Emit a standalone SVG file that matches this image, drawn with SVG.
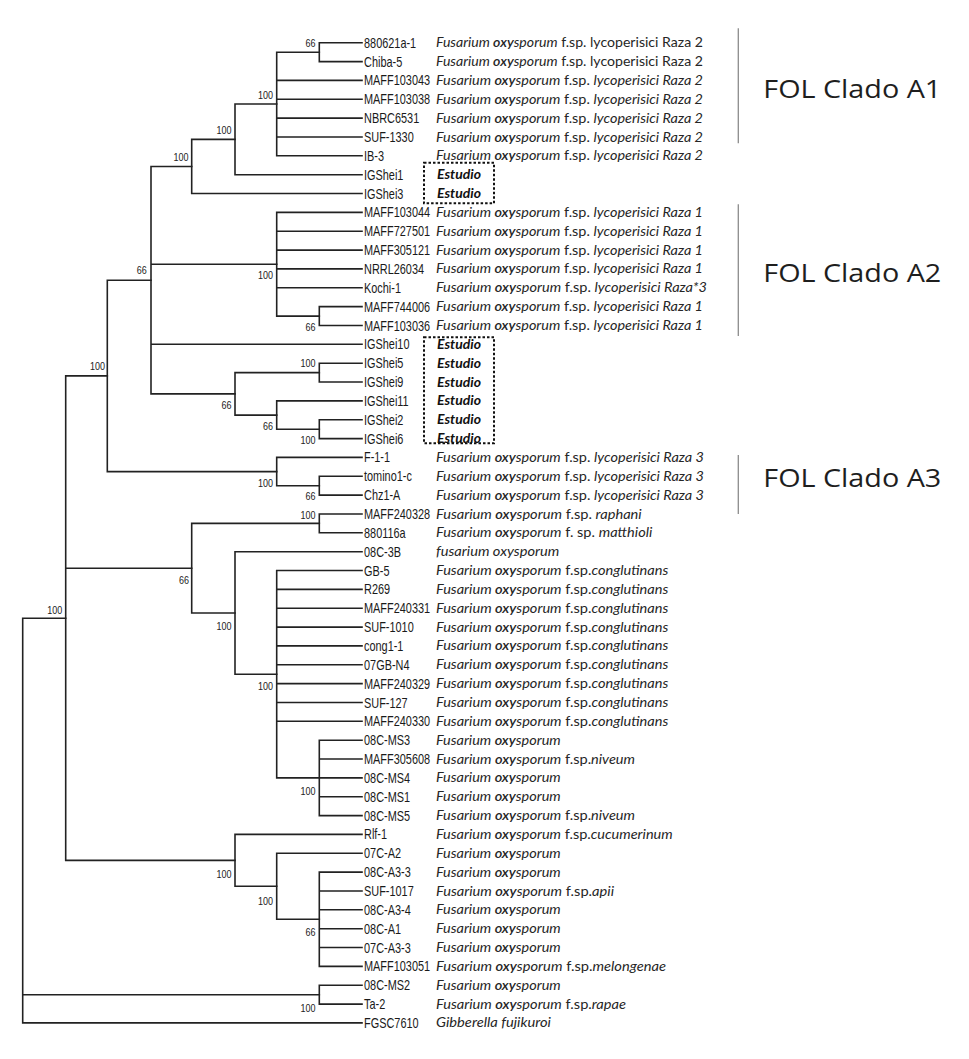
<svg xmlns="http://www.w3.org/2000/svg" width="969" height="1059" viewBox="0 0 969 1059">
<style>
.t{stroke:#222;stroke-width:1.6;fill:none;stroke-linecap:square}
.lf{font-family:"Liberation Sans",Arial,sans-serif;font-size:14px;fill:#1a1a1a}
.sp{font-family:Lato,"Open Sans",sans-serif;font-size:13.5px;fill:#262626}
.i{font-style:italic}
.bi{font-style:italic;font-weight:600}
.bs{font-family:"Liberation Sans",Arial,sans-serif;font-size:10px;fill:#222;text-anchor:end}
.est{font-family:Lato,"Open Sans",sans-serif;font-size:13.5px;font-style:italic;font-weight:bold;fill:#111}
.box{fill:none;stroke:#111;stroke-width:2;stroke-dasharray:2.5 2}
.br{stroke:#8c8c8c;stroke-width:1.3}
.fol{font-family:"Open Sans","Liberation Sans",sans-serif;font-size:25px;fill:#1e1e1e}
</style>
<rect width="969" height="1059" fill="#fff"/>
<g id="connectors">
<path class="t" d="M22.7 618.2V1022.9M22.7 618.2H65.7M22.7 994.7H319.3M22.7 1022.9H362"/>
<path class="t" d="M65.7 375.9V860.4M65.7 375.9H107.3M65.7 568.2H191.7M65.7 860.4H235"/>
<path class="t" d="M107.3 280.2V471.6M107.3 280.2H151M107.3 471.6H276.7"/>
<path class="t" d="M151 166.5V393.9M151 166.5H191.7M151 264.3H276.7M151 344.3H362M151 393.9H235"/>
<path class="t" d="M191.7 139.4V193.5M191.7 139.4H235M191.7 193.5H362"/>
<path class="t" d="M235 104V174.7M235 104H276.7M235 174.7H362"/>
<path class="t" d="M276.7 52.2V155.8M276.7 52.2H319.3M276.7 80.4H362M276.7 99.3H362M276.7 118.1H362M276.7 137H362M276.7 155.8H362"/>
<path class="t" d="M319.3 42.7V61.6M319.3 42.7H362M319.3 61.6H362"/>
<path class="t" d="M276.7 212.4V316.1M276.7 212.4H362M276.7 231.2H362M276.7 250.1H362M276.7 268.9H362M276.7 287.8H362M276.7 316.1H319.3"/>
<path class="t" d="M319.3 306.6V325.5M319.3 306.6H362M319.3 325.5H362"/>
<path class="t" d="M235 372.6V415.1M235 372.6H319.3M235 415.1H276.7"/>
<path class="t" d="M319.3 363.2V382M319.3 363.2H362M319.3 382H362"/>
<path class="t" d="M276.7 400.9V429.2M276.7 400.9H362M276.7 429.2H319.3"/>
<path class="t" d="M319.3 419.7V438.6M319.3 419.7H362M319.3 438.6H362"/>
<path class="t" d="M276.7 457.4V485.7M276.7 457.4H362M276.7 485.7H319.3"/>
<path class="t" d="M319.3 476.3V495.1M319.3 476.3H362M319.3 495.1H362"/>
<path class="t" d="M191.7 523.4V613M191.7 523.4H319.3M191.7 613H235"/>
<path class="t" d="M319.3 514V532.8M319.3 514H362M319.3 532.8H362"/>
<path class="t" d="M235 551.7V674.2M235 551.7H362M235 674.2H276.7"/>
<path class="t" d="M276.7 570.5V777.9M276.7 570.5H362M276.7 589.4H362M276.7 608.2H362M276.7 627.1H362M276.7 645.9H362M276.7 664.8H362M276.7 683.6H362M276.7 702.5H362M276.7 721.3H362M276.7 777.9H319.3"/>
<path class="t" d="M319.3 740.2V815.6M319.3 740.2H362M319.3 759H362M319.3 777.9H362M319.3 796.7H362M319.3 815.6H362"/>
<path class="t" d="M235 834.4V886.3M235 834.4H362M235 886.3H276.7"/>
<path class="t" d="M276.7 853.3V919.3M276.7 853.3H362M276.7 919.3H319.3"/>
<path class="t" d="M319.3 872.1V966.4M319.3 872.1H362M319.3 891H362M319.3 909.8H362M319.3 928.7H362M319.3 947.5H362M319.3 966.4H362"/>
<path class="t" d="M319.3 985.2V1004.1M319.3 985.2H362M319.3 1004.1H362"/>
<path class="br" d="M738.3 28.3V143.3M738.3 204.3V336M738.3 455V514"/>
</g>
<g id="support-values">
<text class="bs" x="315.5" y="46.5" textLength="10" lengthAdjust="spacingAndGlyphs">66</text>
<text class="bs" x="273" y="98.5" textLength="15" lengthAdjust="spacingAndGlyphs">100</text>
<text class="bs" x="231.5" y="133.5" textLength="15" lengthAdjust="spacingAndGlyphs">100</text>
<text class="bs" x="188.5" y="160.5" textLength="15" lengthAdjust="spacingAndGlyphs">100</text>
<text class="bs" x="146.7" y="273.5" textLength="10" lengthAdjust="spacingAndGlyphs">66</text>
<text class="bs" x="273" y="278.5" textLength="15" lengthAdjust="spacingAndGlyphs">100</text>
<text class="bs" x="315.5" y="331" textLength="10" lengthAdjust="spacingAndGlyphs">66</text>
<text class="bs" x="315.5" y="366.8" textLength="15" lengthAdjust="spacingAndGlyphs">100</text>
<text class="bs" x="231.5" y="408.5" textLength="10" lengthAdjust="spacingAndGlyphs">66</text>
<text class="bs" x="273" y="429.5" textLength="10" lengthAdjust="spacingAndGlyphs">66</text>
<text class="bs" x="315.5" y="444" textLength="15" lengthAdjust="spacingAndGlyphs">100</text>
<text class="bs" x="105" y="370.2" textLength="15" lengthAdjust="spacingAndGlyphs">100</text>
<text class="bs" x="273" y="486.8" textLength="15" lengthAdjust="spacingAndGlyphs">100</text>
<text class="bs" x="315.5" y="500.2" textLength="10" lengthAdjust="spacingAndGlyphs">66</text>
<text class="bs" x="315.5" y="518.5" textLength="15" lengthAdjust="spacingAndGlyphs">100</text>
<text class="bs" x="189" y="584" textLength="10" lengthAdjust="spacingAndGlyphs">66</text>
<text class="bs" x="62.3" y="613.5" textLength="15" lengthAdjust="spacingAndGlyphs">100</text>
<text class="bs" x="231.5" y="629.5" textLength="15" lengthAdjust="spacingAndGlyphs">100</text>
<text class="bs" x="273" y="689.5" textLength="15" lengthAdjust="spacingAndGlyphs">100</text>
<text class="bs" x="315.5" y="794.8" textLength="15" lengthAdjust="spacingAndGlyphs">100</text>
<text class="bs" x="231.5" y="878" textLength="15" lengthAdjust="spacingAndGlyphs">100</text>
<text class="bs" x="273" y="904.8" textLength="15" lengthAdjust="spacingAndGlyphs">100</text>
<text class="bs" x="315.5" y="936.3" textLength="10" lengthAdjust="spacingAndGlyphs">66</text>
<text class="bs" x="315.5" y="1012.2" textLength="15" lengthAdjust="spacingAndGlyphs">100</text>
</g>
<g id="study-boxes">
<rect class="box" x="424" y="162.7" width="70" height="40.6"/>
<rect class="box" x="424" y="337.3" width="70" height="106"/>
</g>
<g id="clade-labels">
<text class="fol" x="763.3" y="98" textLength="178" lengthAdjust="spacingAndGlyphs">FOL Clado A1</text>
<text class="fol" x="763.3" y="281.5" textLength="178" lengthAdjust="spacingAndGlyphs">FOL Clado A2</text>
<text class="fol" x="763.3" y="486.5" textLength="178" lengthAdjust="spacingAndGlyphs">FOL Clado A3</text>
</g>
<g id="leaf-880621a-1"><text class="lf" transform="translate(364 47.7) scale(0.78 1)">880621a-1</text><text class="sp" x="436" y="47.2" textLength="267" lengthAdjust="spacingAndGlyphs"><tspan class="i">Fusarium </tspan><tspan class="bi">oxy</tspan><tspan class="i">sporum</tspan> f.sp. lycoperisici Raza 2</text></g>
<g id="leaf-Chiba-5"><text class="lf" transform="translate(364 66.6) scale(0.78 1)">Chiba-5</text><text class="sp" x="436" y="66.1" textLength="267" lengthAdjust="spacingAndGlyphs"><tspan class="i">Fusarium </tspan><tspan class="bi">oxy</tspan><tspan class="i">sporum</tspan> f.sp. lycoperisici Raza 2</text></g>
<g id="leaf-MAFF103043"><text class="lf" transform="translate(364 85.4) scale(0.78 1)">MAFF103043</text><text class="sp" x="436" y="84.9" textLength="267" lengthAdjust="spacingAndGlyphs"><tspan class="i">Fusarium </tspan><tspan class="bi">oxy</tspan><tspan class="i">sporum</tspan> f.sp. <tspan class="i">lycoperisici Raza 2</tspan></text></g>
<g id="leaf-MAFF103038"><text class="lf" transform="translate(364 104.3) scale(0.78 1)">MAFF103038</text><text class="sp" x="436" y="103.8" textLength="267" lengthAdjust="spacingAndGlyphs"><tspan class="i">Fusarium </tspan><tspan class="bi">oxy</tspan><tspan class="i">sporum</tspan> f.sp. <tspan class="i">lycoperisici Raza 2</tspan></text></g>
<g id="leaf-NBRC6531"><text class="lf" transform="translate(364 123.1) scale(0.78 1)">NBRC6531</text><text class="sp" x="436" y="122.6" textLength="267" lengthAdjust="spacingAndGlyphs"><tspan class="i">Fusarium </tspan><tspan class="bi">oxy</tspan><tspan class="i">sporum</tspan> f.sp. <tspan class="i">lycoperisici Raza 2</tspan></text></g>
<g id="leaf-SUF-1330"><text class="lf" transform="translate(364 142) scale(0.78 1)">SUF-1330</text><text class="sp" x="436" y="141.5" textLength="267" lengthAdjust="spacingAndGlyphs"><tspan class="i">Fusarium </tspan><tspan class="bi">oxy</tspan><tspan class="i">sporum</tspan> f.sp. <tspan class="i">lycoperisici Raza 2</tspan></text></g>
<g id="leaf-IB-3"><text class="lf" transform="translate(364 160.8) scale(0.78 1)">IB-3</text><text class="sp" x="436" y="160.3" textLength="267" lengthAdjust="spacingAndGlyphs"><tspan class="i">Fusarium </tspan><tspan class="bi">oxy</tspan><tspan class="i">sporum</tspan> f.sp. <tspan class="i">lycoperisici Raza 2</tspan></text></g>
<g id="leaf-IGShei1"><text class="lf" transform="translate(364 179.7) scale(0.78 1)">IGShei1</text><text class="est" x="437" y="179.2" textLength="44" lengthAdjust="spacingAndGlyphs">Estudio</text></g>
<g id="leaf-IGShei3"><text class="lf" transform="translate(364 198.5) scale(0.78 1)">IGShei3</text><text class="est" x="437" y="198" textLength="44" lengthAdjust="spacingAndGlyphs">Estudio</text></g>
<g id="leaf-MAFF103044"><text class="lf" transform="translate(364 217.4) scale(0.78 1)">MAFF103044</text><text class="sp" x="436" y="216.9" textLength="267" lengthAdjust="spacingAndGlyphs"><tspan class="i">Fusarium </tspan><tspan class="bi">oxy</tspan><tspan class="i">sporum</tspan> f.sp. <tspan class="i">lycoperisici Raza 1</tspan></text></g>
<g id="leaf-MAFF727501"><text class="lf" transform="translate(364 236.2) scale(0.78 1)">MAFF727501</text><text class="sp" x="436" y="235.7" textLength="267" lengthAdjust="spacingAndGlyphs"><tspan class="i">Fusarium </tspan><tspan class="bi">oxy</tspan><tspan class="i">sporum</tspan> f.sp. <tspan class="i">lycoperisici Raza 1</tspan></text></g>
<g id="leaf-MAFF305121"><text class="lf" transform="translate(364 255.1) scale(0.78 1)">MAFF305121</text><text class="sp" x="436" y="254.6" textLength="267" lengthAdjust="spacingAndGlyphs"><tspan class="i">Fusarium </tspan><tspan class="bi">oxy</tspan><tspan class="i">sporum</tspan> f.sp. <tspan class="i">lycoperisici Raza 1</tspan></text></g>
<g id="leaf-NRRL26034"><text class="lf" transform="translate(364 273.9) scale(0.78 1)">NRRL26034</text><text class="sp" x="436" y="273.4" textLength="267" lengthAdjust="spacingAndGlyphs"><tspan class="i">Fusarium </tspan><tspan class="bi">oxy</tspan><tspan class="i">sporum</tspan> f.sp. <tspan class="i">lycoperisici Raza 1</tspan></text></g>
<g id="leaf-Kochi-1"><text class="lf" transform="translate(364 292.8) scale(0.78 1)">Kochi-1</text><text class="sp" x="436" y="292.3" textLength="271" lengthAdjust="spacingAndGlyphs"><tspan class="i">Fusarium </tspan><tspan class="bi">oxy</tspan><tspan class="i">sporum</tspan> f.sp. <tspan class="i">lycoperisici Raza*3</tspan></text></g>
<g id="leaf-MAFF744006"><text class="lf" transform="translate(364 311.6) scale(0.78 1)">MAFF744006</text><text class="sp" x="436" y="311.1" textLength="267" lengthAdjust="spacingAndGlyphs"><tspan class="i">Fusarium </tspan><tspan class="bi">oxy</tspan><tspan class="i">sporum</tspan> f.sp. <tspan class="i">lycoperisici Raza 1</tspan></text></g>
<g id="leaf-MAFF103036"><text class="lf" transform="translate(364 330.5) scale(0.78 1)">MAFF103036</text><text class="sp" x="436" y="330" textLength="267" lengthAdjust="spacingAndGlyphs"><tspan class="i">Fusarium </tspan><tspan class="bi">oxy</tspan><tspan class="i">sporum</tspan> f.sp. <tspan class="i">lycoperisici Raza 1</tspan></text></g>
<g id="leaf-IGShei10"><text class="lf" transform="translate(364 349.3) scale(0.78 1)">IGShei10</text><text class="est" x="437" y="348.8" textLength="44" lengthAdjust="spacingAndGlyphs">Estudio</text></g>
<g id="leaf-IGShei5"><text class="lf" transform="translate(364 368.2) scale(0.78 1)">IGShei5</text><text class="est" x="437" y="367.7" textLength="44" lengthAdjust="spacingAndGlyphs">Estudio</text></g>
<g id="leaf-IGShei9"><text class="lf" transform="translate(364 387) scale(0.78 1)">IGShei9</text><text class="est" x="437" y="386.5" textLength="44" lengthAdjust="spacingAndGlyphs">Estudio</text></g>
<g id="leaf-IGShei11"><text class="lf" transform="translate(364 405.9) scale(0.78 1)">IGShei11</text><text class="est" x="437" y="405.4" textLength="44" lengthAdjust="spacingAndGlyphs">Estudio</text></g>
<g id="leaf-IGShei2"><text class="lf" transform="translate(364 424.7) scale(0.78 1)">IGShei2</text><text class="est" x="437" y="424.2" textLength="44" lengthAdjust="spacingAndGlyphs">Estudio</text></g>
<g id="leaf-IGShei6"><text class="lf" transform="translate(364 443.6) scale(0.78 1)">IGShei6</text><text class="est" x="437" y="443.1" textLength="44" lengthAdjust="spacingAndGlyphs">Estudio</text></g>
<g id="leaf-F-1-1"><text class="lf" transform="translate(364 462.4) scale(0.78 1)">F-1-1</text><text class="sp" x="436" y="461.9" textLength="268" lengthAdjust="spacingAndGlyphs"><tspan class="i">Fusarium </tspan><tspan class="bi">oxy</tspan><tspan class="i">sporum</tspan> f.sp. <tspan class="i">lycoperisici Raza 3</tspan></text></g>
<g id="leaf-tomino1-c"><text class="lf" transform="translate(364 481.3) scale(0.78 1)">tomino1-c</text><text class="sp" x="436" y="480.8" textLength="268" lengthAdjust="spacingAndGlyphs"><tspan class="i">Fusarium </tspan><tspan class="bi">oxy</tspan><tspan class="i">sporum</tspan> f.sp. <tspan class="i">lycoperisici Raza 3</tspan></text></g>
<g id="leaf-Chz1-A"><text class="lf" transform="translate(364 500.1) scale(0.78 1)">Chz1-A</text><text class="sp" x="436" y="499.6" textLength="268" lengthAdjust="spacingAndGlyphs"><tspan class="i">Fusarium </tspan><tspan class="bi">oxy</tspan><tspan class="i">sporum</tspan> f.sp. <tspan class="i">lycoperisici Raza 3</tspan></text></g>
<g id="leaf-MAFF240328"><text class="lf" transform="translate(364 519) scale(0.78 1)">MAFF240328</text><text class="sp" x="436" y="518.5" textLength="205.7" lengthAdjust="spacingAndGlyphs"><tspan class="i">Fusarium </tspan><tspan class="bi">oxy</tspan><tspan class="i">sporum</tspan> f.sp. <tspan class="i">raphani</tspan></text></g>
<g id="leaf-880116a"><text class="lf" transform="translate(364 537.8) scale(0.78 1)">880116a</text><text class="sp" x="436" y="537.3" textLength="216.3" lengthAdjust="spacingAndGlyphs"><tspan class="i">Fusarium </tspan><tspan class="bi">oxy</tspan><tspan class="i">sporum</tspan> f. sp. <tspan class="i">matthioli</tspan></text></g>
<g id="leaf-08C-3B"><text class="lf" transform="translate(364 556.7) scale(0.78 1)">08C-3B</text><text class="sp i" x="436" y="556.2" textLength="123.3" lengthAdjust="spacingAndGlyphs">fusarium oxysporum</text></g>
<g id="leaf-GB-5"><text class="lf" transform="translate(364 575.5) scale(0.78 1)">GB-5</text><text class="sp" x="436" y="575" textLength="232.3" lengthAdjust="spacingAndGlyphs"><tspan class="i">Fusarium </tspan><tspan class="bi">oxy</tspan><tspan class="i">sporum</tspan> f.sp.<tspan class="i">conglutinans</tspan></text></g>
<g id="leaf-R269"><text class="lf" transform="translate(364 594.4) scale(0.78 1)">R269</text><text class="sp" x="436" y="593.9" textLength="232.3" lengthAdjust="spacingAndGlyphs"><tspan class="i">Fusarium </tspan><tspan class="bi">oxy</tspan><tspan class="i">sporum</tspan> f.sp.<tspan class="i">conglutinans</tspan></text></g>
<g id="leaf-MAFF240331"><text class="lf" transform="translate(364 613.2) scale(0.78 1)">MAFF240331</text><text class="sp" x="436" y="612.7" textLength="232.3" lengthAdjust="spacingAndGlyphs"><tspan class="i">Fusarium </tspan><tspan class="bi">oxy</tspan><tspan class="i">sporum</tspan> f.sp.<tspan class="i">conglutinans</tspan></text></g>
<g id="leaf-SUF-1010"><text class="lf" transform="translate(364 632.1) scale(0.78 1)">SUF-1010</text><text class="sp" x="436" y="631.6" textLength="232.3" lengthAdjust="spacingAndGlyphs"><tspan class="i">Fusarium </tspan><tspan class="bi">oxy</tspan><tspan class="i">sporum</tspan> f.sp.<tspan class="i">conglutinans</tspan></text></g>
<g id="leaf-cong1-1"><text class="lf" transform="translate(364 650.9) scale(0.78 1)">cong1-1</text><text class="sp" x="436" y="650.4" textLength="232.3" lengthAdjust="spacingAndGlyphs"><tspan class="i">Fusarium </tspan><tspan class="bi">oxy</tspan><tspan class="i">sporum</tspan> f.sp.<tspan class="i">conglutinans</tspan></text></g>
<g id="leaf-07GB-N4"><text class="lf" transform="translate(364 669.8) scale(0.78 1)">07GB-N4</text><text class="sp" x="436" y="669.3" textLength="232.3" lengthAdjust="spacingAndGlyphs"><tspan class="i">Fusarium </tspan><tspan class="bi">oxy</tspan><tspan class="i">sporum</tspan> f.sp.<tspan class="i">conglutinans</tspan></text></g>
<g id="leaf-MAFF240329"><text class="lf" transform="translate(364 688.6) scale(0.78 1)">MAFF240329</text><text class="sp" x="436" y="688.1" textLength="232.3" lengthAdjust="spacingAndGlyphs"><tspan class="i">Fusarium </tspan><tspan class="bi">oxy</tspan><tspan class="i">sporum</tspan> f.sp.<tspan class="i">conglutinans</tspan></text></g>
<g id="leaf-SUF-127"><text class="lf" transform="translate(364 707.5) scale(0.78 1)">SUF-127</text><text class="sp" x="436" y="707" textLength="232.3" lengthAdjust="spacingAndGlyphs"><tspan class="i">Fusarium </tspan><tspan class="bi">oxy</tspan><tspan class="i">sporum</tspan> f.sp.<tspan class="i">conglutinans</tspan></text></g>
<g id="leaf-MAFF240330"><text class="lf" transform="translate(364 726.3) scale(0.78 1)">MAFF240330</text><text class="sp" x="436" y="725.8" textLength="232.3" lengthAdjust="spacingAndGlyphs"><tspan class="i">Fusarium </tspan><tspan class="bi">oxy</tspan><tspan class="i">sporum</tspan> f.sp.<tspan class="i">conglutinans</tspan></text></g>
<g id="leaf-08C-MS3"><text class="lf" transform="translate(364 745.2) scale(0.78 1)">08C-MS3</text><text class="sp" x="436" y="744.7" textLength="124.7" lengthAdjust="spacingAndGlyphs"><tspan class="i">Fusarium </tspan><tspan class="bi">oxy</tspan><tspan class="i">sporum</tspan></text></g>
<g id="leaf-MAFF305608"><text class="lf" transform="translate(364 764) scale(0.78 1)">MAFF305608</text><text class="sp" x="436" y="763.5" textLength="199" lengthAdjust="spacingAndGlyphs"><tspan class="i">Fusarium </tspan><tspan class="bi">oxy</tspan><tspan class="i">sporum</tspan> f.sp.<tspan class="i">niveum</tspan></text></g>
<g id="leaf-08C-MS4"><text class="lf" transform="translate(364 782.9) scale(0.78 1)">08C-MS4</text><text class="sp" x="436" y="782.4" textLength="124.7" lengthAdjust="spacingAndGlyphs"><tspan class="i">Fusarium </tspan><tspan class="bi">oxy</tspan><tspan class="i">sporum</tspan></text></g>
<g id="leaf-08C-MS1"><text class="lf" transform="translate(364 801.7) scale(0.78 1)">08C-MS1</text><text class="sp" x="436" y="801.2" textLength="124.7" lengthAdjust="spacingAndGlyphs"><tspan class="i">Fusarium </tspan><tspan class="bi">oxy</tspan><tspan class="i">sporum</tspan></text></g>
<g id="leaf-08C-MS5"><text class="lf" transform="translate(364 820.6) scale(0.78 1)">08C-MS5</text><text class="sp" x="436" y="820.1" textLength="199" lengthAdjust="spacingAndGlyphs"><tspan class="i">Fusarium </tspan><tspan class="bi">oxy</tspan><tspan class="i">sporum</tspan> f.sp.<tspan class="i">niveum</tspan></text></g>
<g id="leaf-Rlf-1"><text class="lf" transform="translate(364 839.4) scale(0.78 1)">Rlf-1</text><text class="sp" x="436" y="838.9" textLength="236.7" lengthAdjust="spacingAndGlyphs"><tspan class="i">Fusarium </tspan><tspan class="bi">oxy</tspan><tspan class="i">sporum</tspan> f.sp.<tspan class="i">cucumerinum</tspan></text></g>
<g id="leaf-07C-A2"><text class="lf" transform="translate(364 858.3) scale(0.78 1)">07C-A2</text><text class="sp" x="436" y="857.8" textLength="124.7" lengthAdjust="spacingAndGlyphs"><tspan class="i">Fusarium </tspan><tspan class="bi">oxy</tspan><tspan class="i">sporum</tspan></text></g>
<g id="leaf-08C-A3-3"><text class="lf" transform="translate(364 877.1) scale(0.78 1)">08C-A3-3</text><text class="sp" x="436" y="876.6" textLength="124.7" lengthAdjust="spacingAndGlyphs"><tspan class="i">Fusarium </tspan><tspan class="bi">oxy</tspan><tspan class="i">sporum</tspan></text></g>
<g id="leaf-SUF-1017"><text class="lf" transform="translate(364 896) scale(0.78 1)">SUF-1017</text><text class="sp" x="436" y="895.5" textLength="178" lengthAdjust="spacingAndGlyphs"><tspan class="i">Fusarium </tspan><tspan class="bi">oxy</tspan><tspan class="i">sporum</tspan> f.sp.<tspan class="i">apii</tspan></text></g>
<g id="leaf-08C-A3-4"><text class="lf" transform="translate(364 914.8) scale(0.78 1)">08C-A3-4</text><text class="sp" x="436" y="914.3" textLength="124.7" lengthAdjust="spacingAndGlyphs"><tspan class="i">Fusarium </tspan><tspan class="bi">oxy</tspan><tspan class="i">sporum</tspan></text></g>
<g id="leaf-08C-A1"><text class="lf" transform="translate(364 933.7) scale(0.78 1)">08C-A1</text><text class="sp" x="436" y="933.2" textLength="124.7" lengthAdjust="spacingAndGlyphs"><tspan class="i">Fusarium </tspan><tspan class="bi">oxy</tspan><tspan class="i">sporum</tspan></text></g>
<g id="leaf-07C-A3-3"><text class="lf" transform="translate(364 952.5) scale(0.78 1)">07C-A3-3</text><text class="sp" x="436" y="952" textLength="124.7" lengthAdjust="spacingAndGlyphs"><tspan class="i">Fusarium </tspan><tspan class="bi">oxy</tspan><tspan class="i">sporum</tspan></text></g>
<g id="leaf-MAFF103051"><text class="lf" transform="translate(364 971.4) scale(0.78 1)">MAFF103051</text><text class="sp" x="436" y="970.9" textLength="230" lengthAdjust="spacingAndGlyphs"><tspan class="i">Fusarium </tspan><tspan class="bi">oxy</tspan><tspan class="i">sporum</tspan> f.sp.<tspan class="i">melongenae</tspan></text></g>
<g id="leaf-08C-MS2"><text class="lf" transform="translate(364 990.2) scale(0.78 1)">08C-MS2</text><text class="sp" x="436" y="989.7" textLength="124.7" lengthAdjust="spacingAndGlyphs"><tspan class="i">Fusarium </tspan><tspan class="bi">oxy</tspan><tspan class="i">sporum</tspan></text></g>
<g id="leaf-Ta-2"><text class="lf" transform="translate(364 1009.1) scale(0.78 1)">Ta-2</text><text class="sp" x="436" y="1008.6" textLength="190" lengthAdjust="spacingAndGlyphs"><tspan class="i">Fusarium </tspan><tspan class="bi">oxy</tspan><tspan class="i">sporum</tspan> f.sp.<tspan class="i">rapae</tspan></text></g>
<g id="leaf-FGSC7610"><text class="lf" transform="translate(364 1027.9) scale(0.78 1)">FGSC7610</text><text class="sp i" x="436" y="1027.4" textLength="115" lengthAdjust="spacingAndGlyphs">Gibberella fujikuroi</text></g>
</svg>
